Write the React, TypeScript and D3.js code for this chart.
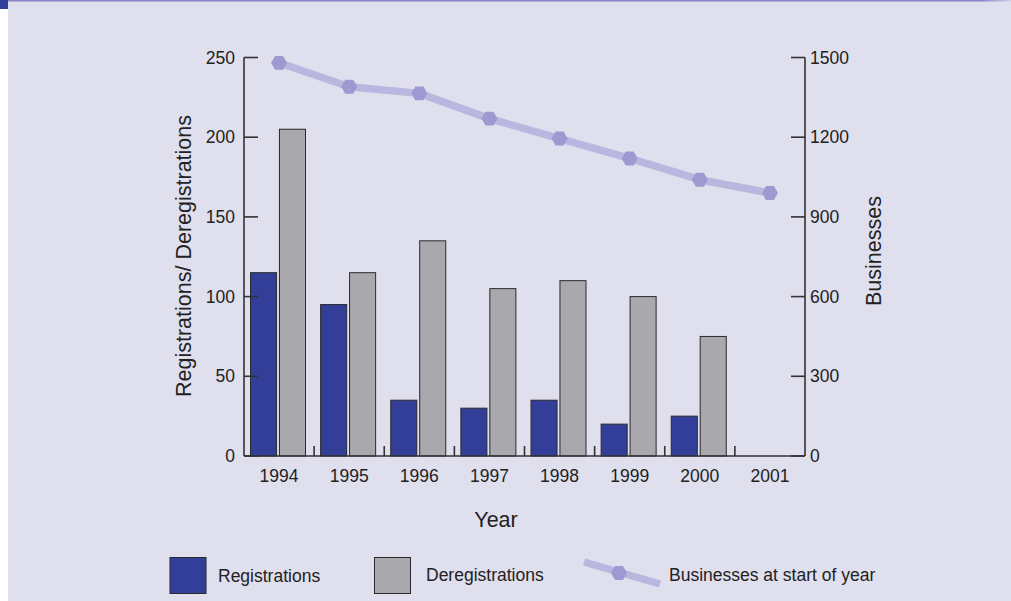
import React from "react";
import * as d3 from "d3";

const years = ["1994", "1995", "1996", "1997", "1998", "1999", "2000", "2001"];
const registrations = [115, 95, 35, 30, 35, 20, 25, 0];
const deregistrations = [205, 115, 135, 105, 110, 100, 75, 0];
const businesses = [1480, 1390, 1365, 1270, 1195, 1120, 1040, 990];
const leftTicks = [0, 50, 100, 150, 200, 250];
const rightTicks = [0, 300, 600, 900, 1200, 1500];
const seriesKeys = ["Registrations", "Deregistrations"];

const W = 1011;
const H = 601;
const FONT = "'Liberation Sans', Arial, Helvetica, sans-serif";
const BLUE = "#333e98";
const GRAY = "#a9a9ad";
const BG = "#e0dfee";
const LINE = "#b9b7df";
const MARK = "#9d99d1";
const AXIS = "#333";
const TEXT = "#222";

function hexPath(cx: number, cy: number, r: number) {
  const pts: [number, number][] = [];
  for (let i = 0; i < 6; i++) {
    const a = (Math.PI / 3) * i;
    pts.push([cx + r * Math.cos(a), cy + r * Math.sin(a)]);
  }
  return "M" + pts.map((p) => p.join(",")).join("L") + "Z";
}

export default function App() {
  const x = d3.scaleBand<string>().domain(years).range([244, 805]).padding(0);
  const inner = d3
    .scaleBand<string>()
    .domain(seriesKeys)
    .range([6.5, 61.5])
    .paddingInner(0.1);
  const yL = d3.scaleLinear().domain([0, 250]).range([456, 57.5]);
  const yR = d3.scaleLinear().domain([0, 1500]).range([456, 57.5]);
  const bw = x.bandwidth();

  const line = d3
    .line<number>()
    .x((_, i) => (x(years[i]) as number) + bw / 2)
    .y((d) => yR(d));

  const barData = [registrations, deregistrations];
  const barColors = [BLUE, GRAY];

  return (
    <svg
      width={W}
      height={H}
      style={{ position: "absolute", left: 0, top: 0, display: "block" }}
    >
      <rect x={0} y={0} width={W} height={H} fill="#fff" />
      <rect x={8} y={0} width={W - 8} height={H} fill={BG} />
      <defs>
        <linearGradient id="topline" x1="0" x2="1" y1="0" y2="0">
          <stop offset="0.97" stopColor="#8a84c6" />
          <stop offset="1" stopColor="#8a84c6" stopOpacity="0.2" />
        </linearGradient>
      </defs>
      <rect x={0} y={0} width={W} height={1.5} fill="url(#topline)" />
      <rect x={0} y={0} width={8} height={9} fill={BLUE} />

      {/* bars */}
      {barData.map((vals, si) =>
        vals.map((v, i) =>
          v > 0 ? (
            <rect
              key={`b${si}-${i}`}
              x={(x(years[i]) as number) + (inner(seriesKeys[si]) as number)}
              y={yL(v)}
              width={inner.bandwidth()}
              height={yL(0) - yL(v)}
              fill={barColors[si]}
              stroke="#2a2a2a"
              strokeWidth={1}
            />
          ) : null
        )
      )}

      {/* axes */}
      <g stroke={AXIS} strokeWidth={1.6} fill="none">
        <line x1={244} y1={57.5} x2={244} y2={456} />
        <line x1={805} y1={57.5} x2={805} y2={456} />
        <line x1={244} y1={456} x2={805} y2={456} />
        {leftTicks.map((t) => (
          <line key={`lt${t}`} x1={244} x2={258} y1={yL(t)} y2={yL(t)} />
        ))}
        {rightTicks.map((t) => (
          <line key={`rt${t}`} x1={791} x2={805} y1={yR(t)} y2={yR(t)} />
        ))}
        {years.slice(1).map((yv) => (
          <line
            key={`bt${yv}`}
            x1={x(yv) as number}
            x2={x(yv) as number}
            y1={456}
            y2={446}
          />
        ))}
      </g>

      {/* tick labels */}
      <g fontFamily={FONT} fontSize={17.5} fill={TEXT}>
        {leftTicks.map((t) => (
          <text key={`ll${t}`} x={235} y={yL(t)} dy="0.35em" textAnchor="end">
            {t}
          </text>
        ))}
        {rightTicks.map((t) => (
          <text key={`rl${t}`} x={810} y={yR(t)} dy="0.35em" textAnchor="start">
            {t}
          </text>
        ))}
        {years.map((yv) => (
          <text
            key={`yl${yv}`}
            x={(x(yv) as number) + bw / 2}
            y={476}
            dy="0.35em"
            textAnchor="middle"
          >
            {yv}
          </text>
        ))}
      </g>

      {/* axis titles */}
      <g fontFamily={FONT} fontSize={21.5} fill={TEXT}>
        <text x={496} y={519} dy="0.35em" textAnchor="middle">
          Year
        </text>
        <text
          transform="translate(183,256) rotate(-90)"
          dy="0.35em"
          textAnchor="middle"
        >
          Registrations/ Deregistrations
        </text>
        <text
          transform="translate(873,251) rotate(-90)"
          dy="0.35em"
          textAnchor="middle"
        >
          Businesses
        </text>
      </g>

      {/* line */}
      <path
        d={line(businesses) || ""}
        fill="none"
        stroke={LINE}
        strokeWidth={7.5}
        strokeLinejoin="round"
      />
      {businesses.map((v, i) => (
        <path
          key={`m${i}`}
          d={hexPath((x(years[i]) as number) + bw / 2, yR(v), 8)}
          fill={MARK}
        />
      ))}

      {/* legend */}
      <g fontFamily={FONT} fontSize={17.5} fill={TEXT}>
        <rect x={170} y={557.5} width={36} height={36} fill={BLUE} stroke="#2a2a2a" strokeWidth={1} />
        <text x={218} y={576} dy="0.35em">
          Registrations
        </text>
        <rect x={374.5} y={557.5} width={36} height={36} fill={GRAY} stroke="#2a2a2a" strokeWidth={1} />
        <text x={426} y={575} dy="0.35em">
          Deregistrations
        </text>
        <line x1={584} y1={562} x2={660} y2={584} stroke={LINE} strokeWidth={7.5} />
        <path d={hexPath(619, 573, 8)} fill={MARK} />
        <text x={669} y={575} dy="0.35em">
          Businesses at start of year
        </text>
      </g>
    </svg>
  );
}
